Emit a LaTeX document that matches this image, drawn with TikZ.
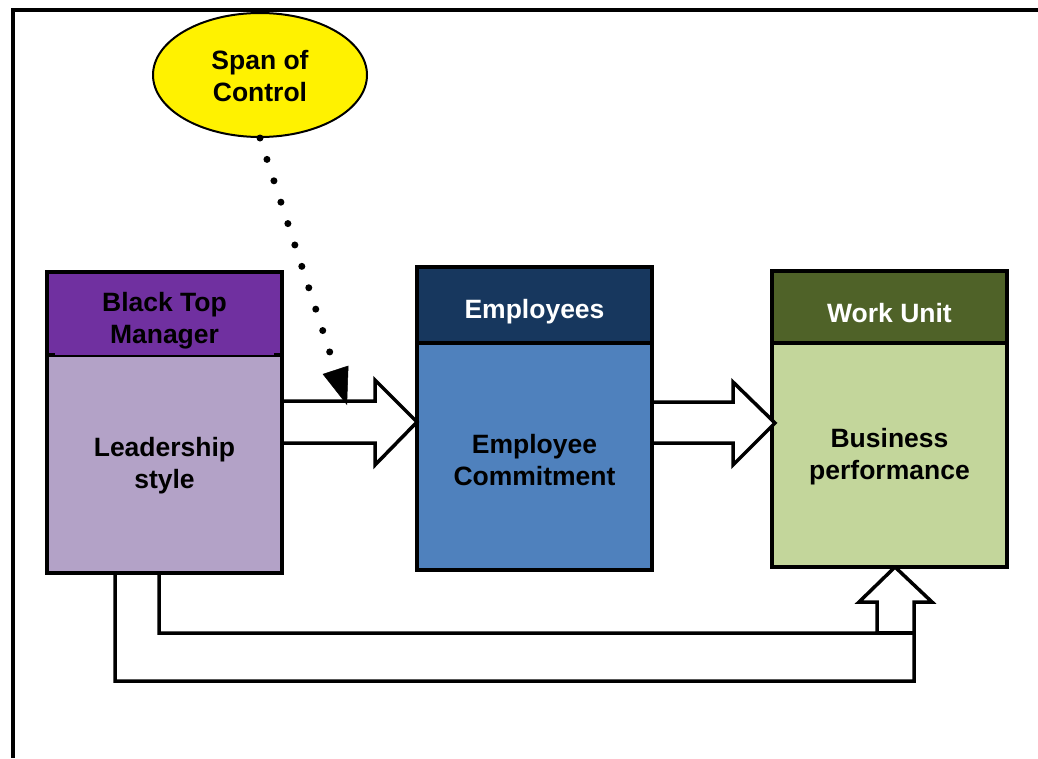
\documentclass[tikz,border=0pt]{standalone}
\usepackage{fontspec}
\setmainfont{Liberation Sans}
\usetikzlibrary{arrows.meta,calc,shapes.geometric}
\definecolor{purpHead}{HTML}{7030A0}
\definecolor{purpBody}{HTML}{B3A2C7}
\definecolor{blueHead}{HTML}{17375E}
\definecolor{blueBody}{HTML}{4F81BD}
\definecolor{greenHead}{HTML}{4F6228}
\definecolor{greenBody}{HTML}{C3D69B}
\begin{document}
\begin{tikzpicture}[x=1pt,y=-1pt,
  lbl/.style={font=\fontsize{26.5}{32}\selectfont\bfseries, align=center, inner sep=0pt},
  panel/.style={rectangle, inner sep=0pt, outer sep=0pt, minimum width=235pt, line width=3.5pt, draw=black},
  blockarrow/.style={line width=3.5pt, draw=black, fill=white, line join=miter}]
\useasboundingbox (0,0) rectangle (1038,758);
\fill[white] (0,0) rectangle (1038,758);
% frame
\draw[line width=4.5pt] (1038,10) -- (13,10) -- (13,758);

% U-shaped block arrow from leadership box to work unit box
\draw[blockarrow] (115,572) -- (159,572) -- (159,633) -- (877,633) -- (877,602)
  -- (859,602) -- (895,567) -- (932,602) -- (914,602) -- (914,681) -- (115,681) -- cycle;
\draw[line width=3.5pt] (877,633) -- (914,633);

% left box
\node[panel, fill=purpBody, minimum height=218pt] (lbody) at (164.5,464) {};
\node[panel, draw=none, fill=purpHead, minimum height=83pt] (lhead) at (164.5,313.5) {};
\draw[line width=3.5pt] (lhead.south west) |- (lhead.north east) -- (lhead.south east);
\draw[line width=3.5pt] (lhead.south west) -- ++(8,0);
\draw[line width=3.5pt] (lhead.south east) -- ++(-8,0);
\node[lbl] (lheadtxt) at (164.5,321) {Black Top\\Manager};
\node[lbl] (lbodytxt) at (164.5,466) {Leadership\\style};

% middle box
\node[panel, fill=blueBody, minimum height=227pt] (mbody) at (534.5,456.5) {};
\node[panel, fill=blueHead, minimum height=76pt] (mhead) at (534.5,305) {};
\node[lbl, text=white] (mheadtxt) at (534.5,312) {Employees};
\node[lbl] (mbodytxt) at (534.5,460) {Employee\\Commitment};

% right box
\node[panel, fill=greenBody, minimum height=224pt] (rbody) at (889.5,455) {};
\node[panel, fill=greenHead, minimum height=72pt] (rhead) at (889.5,307) {};
\node[lbl, text=white] (rheadtxt) at (889.5,313) {Work Unit};
\node[lbl] (rbodytxt) at (889.5,457) {Business\\performance};

% block arrows between boxes
\draw[blockarrow] (282,401) -- (375,401) -- (375,380) -- (417,422) -- (375,465)
  -- (375,443) -- (282,443) -- cycle;
\draw[blockarrow] (652,402) -- (733,402) -- (733,382) -- (775,423) -- (733,465)
  -- (733,443) -- (652,443) -- cycle;

% span of control ellipse
\node[ellipse, draw=black, fill=yellow, line width=2pt, minimum width=214pt,
  minimum height=124pt, inner sep=0pt] (span) at (260,75) {};
\node[lbl] (spantxt) at (260,76) {Span of\\Control};

% dotted arrow
\coordinate (dtip) at (347,405);
\draw[line width=7pt, line cap=round, dash pattern=on 0pt off 22.5pt,
  -{Triangle[length=37pt,width=27pt,line width=0.5pt]}] (span.south) -- (dtip);
\end{tikzpicture}
\end{document}
